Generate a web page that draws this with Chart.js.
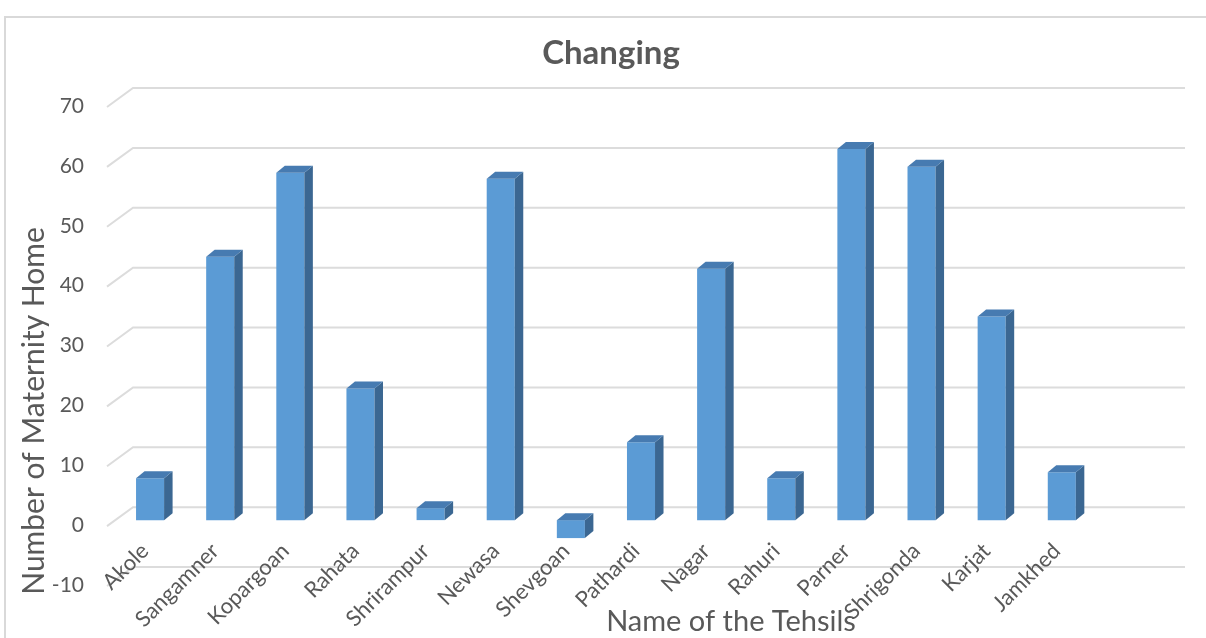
<!DOCTYPE html>
<html><head><meta charset="utf-8">
<script src="https://cdn.jsdelivr.net/npm/chart.js@4/dist/chart.umd.min.js"></script>
<style>
html,body{margin:0;padding:0;background:#fff;width:1206px;height:638px;overflow:hidden;}
#frame{position:absolute;left:4px;top:16px;width:1300px;height:700px;border-left:2px solid #d9d9d9;border-top:2px solid #d9d9d9;}
#wrap{position:absolute;left:0;top:0;width:1206px;height:638px;}
</style></head><body>
<div id="frame"></div>
<div id="wrap"><canvas id="c" width="1206" height="638"></canvas></div>
<script>
// ---- data ----
const categories = ['Akole','Sangamner','Kopargoan','Rahata','Shrirampur','Newasa','Shevgoan','Pathardi','Nagar','Rahuri','Parner','Shrigonda','Karjat','Jamkhed',''];
const changing = [7,44,58,22,2,57,-3,13,42,7,62,59,34,8,null];
const yMin = -10, yMax = 70, yStep = 10;
const chartTitle = 'Changing';
const xTitle = 'Name of the Tehsils';
const yTitle = 'Number of Maternity Home';

// ---- style ----
const FONT = 'Lato, "Open Sans", sans-serif';
const TEXT = '#595959';
const FRONT = '#5b9bd5', SIDE = '#3b6792', TOP = '#477bb1';
const GRID = '#dcdcdc';
const GF = {dx:-8, dy:6}, GB = {dx:18, dy:-13};
const BD = {dx:8.5, dy:7};

const grid3d = {
  id:'grid3d',
  beforeDraw(chart){
    const ctx = chart.ctx, x = chart.scales.x, y = chart.scales.y;
    ctx.save();
    ctx.strokeStyle = GRID; ctx.lineWidth = 2;
    y.ticks.forEach(t=>{
      const py = y.getPixelForValue(t.value);
      ctx.beginPath();
      ctx.moveTo(x.left+GF.dx, py+GF.dy);
      ctx.lineTo(x.left+GB.dx, py+GB.dy);
      ctx.lineTo(x.right+GB.dx, py+GB.dy);
      ctx.stroke();
    });
    ctx.restore();
  }
};

const bar3d = {
  id:'bar3d',
  afterDatasetsDraw(chart){
    const ctx = chart.ctx;
    const meta = chart.getDatasetMeta(0);
    ctx.save();
    meta.data.forEach((el,i)=>{
      if (changing[i] === null) return;
      const p = el.getProps(['x','y','base','width'], true);
      const l = p.x - p.width/2, r = p.x + p.width/2;
      const top = Math.min(p.y, p.base), bot = Math.max(p.y, p.base);
      ctx.fillStyle = SIDE;
      ctx.beginPath();
      ctx.moveTo(r, top); ctx.lineTo(r+BD.dx, top-BD.dy);
      ctx.lineTo(r+BD.dx, bot-BD.dy); ctx.lineTo(r, bot); ctx.closePath(); ctx.fill();
      ctx.fillStyle = TOP;
      ctx.beginPath();
      ctx.moveTo(l, top); ctx.lineTo(l+BD.dx, top-BD.dy);
      ctx.lineTo(r+BD.dx, top-BD.dy); ctx.lineTo(r, top); ctx.closePath(); ctx.fill();
    });
    ctx.restore();
  }
};

const texts = {
  id:'texts',
  afterDraw(chart){
    const ctx = chart.ctx;
    ctx.save();
    ctx.fillStyle = TEXT;
    ctx.textAlign = 'center'; ctx.textBaseline = 'middle';
    ctx.font = 'bold 33px ' + FONT;
    ctx.fillText(chartTitle, 611, 53);
    ctx.font = '29px ' + FONT;
    ctx.fillText(xTitle, 731, 622);
    ctx.translate(34, 411);
    ctx.rotate(-Math.PI/2);
    ctx.font = '30px ' + FONT;
    ctx.fillText(yTitle, 0, 0);
    ctx.restore();
  }
};

new Chart(document.getElementById('c'), {
  type:'bar',
  data:{ labels:categories, datasets:[{ data:changing, backgroundColor:FRONT, borderWidth:0, categoryPercentage:1, barPercentage:0.4 }]},
  options:{
    responsive:false, animation:false,
    layout:{padding:{left:10,right:39,top:101,bottom:0}},
    plugins:{legend:{display:false}, title:{display:false}, tooltip:{enabled:false}},
    scales:{
      x:{
        grid:{display:false}, border:{display:false},
        ticks:{color:TEXT, font:{size:22, family:FONT}, minRotation:45, maxRotation:45, autoSkip:false, padding:-50, labelOffset:-5},
        afterFit(s){ s.height = 58; s._computeLabelArea = function(){ return undefined; }; }
      },
      y:{
        min:yMin, max:yMax,
        grid:{display:false}, border:{display:false},
        ticks:{stepSize:yStep, color:TEXT, font:{size:21, family:FONT}, padding:23, labelOffset:5},
        afterFit(s){ s.width = 105; }
      }
    }
  },
  plugins:[grid3d, bar3d, texts]
});
</script>
</body></html>
